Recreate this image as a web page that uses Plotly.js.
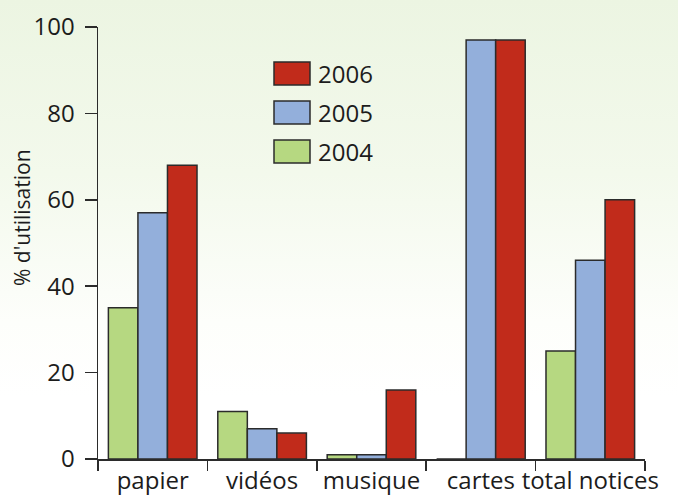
<!DOCTYPE html>
<html><head><meta charset="utf-8">
<script src="https://cdn.plot.ly/plotly-3.0.1.min.js"></script>
<style>
html,body{margin:0;padding:0;}
body{width:678px;height:495px;background:linear-gradient(180deg,#ecf5e2 0%,#f3f9ec 35%,#fdfefb 65%,#ffffff 80%);}
#chart{width:678px;height:495px;}
</style></head>
<body><div id="chart"></div>
<script>
const categories = ["papier", "vidéos", "musique", "cartes", "total notices"];
const seriesNames = ["2004", "2005", "2006"];
const values2004 = [35, 11, 1, 0, 25];
const values2005 = [57, 7, 1, 97, 46];
const values2006 = [68, 6, 16, 97, 60];
const yTicks = [0, 20, 40, 60, 80, 100];
const yTitle = "% d'utilisation";
const colors = ["#b6d881", "#93afdb", "#c12b1b"];

const allValues = [values2004, values2005, values2006];
const font = "'Open Sans', 'Noto Sans', sans-serif";
const traces = allValues.map((v, i) => ({
  type: "bar", x: categories, y: v, name: seriesNames[i],
  marker: {color: colors[i], line: {color: "#2b2b2b", width: 1.5}},
  showlegend: false, hoverinfo: "none"
}));

// custom legend (larger swatches, reversed order)
const shapes = [], annotations = [];
const W = 547, H = 432;
[2, 1, 0].forEach((si, k) => {
  const top = 62 + k * 39;
  shapes.push({type: "rect", xref: "paper", yref: "paper",
    x0: (274 - 98) / W, x1: (310 - 98) / W,
    y0: (459 - (top + 23)) / H, y1: (459 - top) / H,
    fillcolor: colors[si], line: {color: "#2b2b2b", width: 1.5}});
  annotations.push({xref: "paper", yref: "paper", x: (316 - 98) / W, y: (459 - (top + 11.5)) / H,
    xanchor: "left", yanchor: "middle", showarrow: false, text: seriesNames[si],
    font: {family: font, size: 24, color: "#1c1c1c"}});
});
// y-axis title placed as rotated annotation
annotations.push({xref: "paper", yref: "paper", x: (22 - 98) / W, y: (459 - 218) / H,
  xanchor: "center", yanchor: "middle", showarrow: false, textangle: -90, text: yTitle,
  font: {family: font, size: 21, color: "#1c1c1c"}});

const layout = {
  width: 678, height: 495,
  margin: {l: 98, r: 33, t: 27, b: 36},
  paper_bgcolor: "rgba(0,0,0,0)", plot_bgcolor: "rgba(0,0,0,0)",
  barmode: "group", bargap: 0.19, bargroupgap: 0,
  font: {family: font, color: "#1c1c1c"},
  xaxis: {
    type: "category", showline: true, linecolor: "#2b2b2b", linewidth: 1.5,
    ticks: "outside", tickson: "boundaries", ticklen: 10, tickcolor: "#2b2b2b", tickwidth: 1.5,
    tickangle: 0, automargin: false,
    tickfont: {family: font, size: 24, color: "#1c1c1c"}, showgrid: false, zeroline: false,
    ticklabelstandoff: 0
  },
  yaxis: {
    range: [0, 100], tickvals: yTicks, showline: true, linecolor: "#2b2b2b", linewidth: 1.5,
    ticks: "outside", ticklen: 12, tickcolor: "#2b2b2b", tickwidth: 1.5, automargin: false,
    tickfont: {family: font, size: 24, color: "#1c1c1c"}, showgrid: false, zeroline: false,
    ticklabelstandoff: 5
  },
  shapes: shapes, annotations: annotations
};
Plotly.newPlot("chart", traces, layout, {displayModeBar: false, staticPlot: true});
</script></body></html>
